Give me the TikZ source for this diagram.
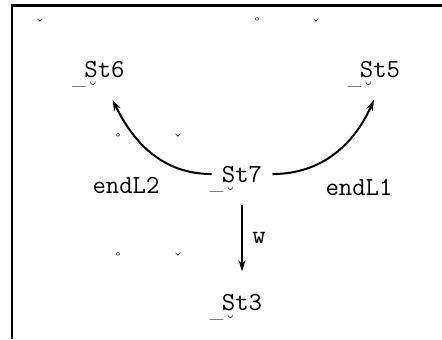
\documentclass[tikz,border=0pt]{standalone}
\usepackage{tikz}
\usetikzlibrary{arrows.meta, positioning}

\begin{document}
\begin{tikzpicture}[x=0.5pt, y=-0.5pt,
  state/.style={font=\fontsize{13}{15}\selectfont\ttfamily, inner xsep=5pt, inner ysep=11pt, anchor=base},
  lbl/.style={font=\fontsize{13}{15}\selectfont\ttfamily, inner sep=0pt, anchor=base},
  glyph/.style={font=\fontsize{9}{10}\selectfont, inner sep=0pt, anchor=base},
  trans/.style={-{Stealth[length=5.5pt,width=3.4pt]}, line width=1pt}]
  \useasboundingbox (0,0) rectangle (442,339);
  \draw[line width=1.3pt] (12,339) -- (12,5.5) -- (442,5.5);
  % states
  \node[state] (st6) at (104.5,77) {St6};
  \node[state] (st5) at (380,77) {St5};
  \node[state] (st7) at (242,182) {St7};
  \node[state] (st3) at (242,310) {St3};
  \foreach \s in {st6,st5,st7,st3} {
    \node[glyph] (\s u) at ([xshift=2.5pt,yshift=-3.5pt]\s.base west) {\_};
    \node[glyph] (\s b) at ([xshift=9.5pt,yshift=-8.7pt]\s.base west) {\symbol{"02D8}};}
  % stray marks
  \node[glyph] (c1) at (40,31) {\symbol{"02C7}};
  \node[glyph] (r1) at (257,30.5) {\symbol{"02DA}};
  \node[glyph] (c2) at (316,31) {\symbol{"02C7}};
  \foreach \y [count=\i] in {146,265} {
    \node[glyph] (r\i x) at (118,\y) {\symbol{"02DA}};
    \node[glyph] (c\i x) at (178,\y) {\symbol{"02C7}};}
  % transitions
  \draw[trans] (st7.west) to[out=180, in=-64] ([xshift=4pt]st6.south);
  \draw[trans] (st7.east) to[out=0, in=-114] ([xshift=-3pt]st5.south);
  \draw[trans] (st7.south) -- (st3.north);
  \node[lbl] (l2) at (126,193) {endL2};
  \node[lbl] (l1) at (359,195) {endL1};
  \node[lbl] (w) at (259,243) {w};
\end{tikzpicture}
\end{document}
